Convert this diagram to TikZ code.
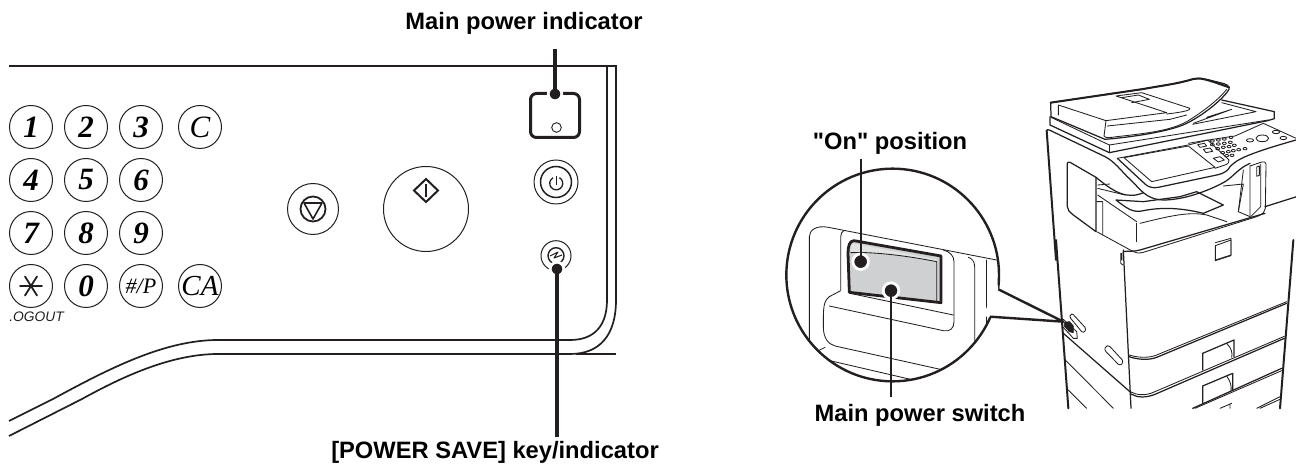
\documentclass[tikz,border=0pt]{standalone}
\usepackage{fontspec}
\setmainfont{Liberation Sans}[Ligatures=TeXOff]
\newfontfamily\keyfont{Liberation Serif}
\tikzset{
  lab/.style={font=\fontsize{11.85pt}{13pt}\selectfont\bfseries,inner sep=0pt,anchor=center},
  key/.style={circle,draw=ink,line width=0.5pt,minimum size=21.5pt,inner sep=0pt,font=\keyfont\fontsize{15.5pt}{16pt}\selectfont\bfseries\itshape},
  pan/.style={draw=ink,line width=0.85pt},
  leader/.style={draw=ink,line width=1.7pt},
  leadthin/.style={draw=ink,line width=1.05pt},
  dotk/.style={circle,fill=ink,draw=white,line width=1.4pt,minimum size=6.8pt,inner sep=0pt,outer sep=0pt},
  thin1/.style={draw=ink,line width=0.42pt,line cap=round,line join=round},
  med1/.style={draw=ink,line width=0.62pt,line cap=round,line join=round},
  thick1/.style={draw=ink,line width=1pt,line cap=round,line join=round},
  zoomA/.style={shift={(770,120)},x=0.16667pt,y=-0.16667pt},
  zoomB/.style={shift={(1030,60)},x=0.16667pt,y=-0.16667pt},
  zoomC/.style={shift={(1030,240)},x=0.16667pt,y=-0.16667pt},
}
\definecolor{ink}{HTML}{231F20}
\definecolor{rocker}{HTML}{CFD0D1}
\definecolor{rockhi}{HTML}{E2E3E3}
\begin{document}
\begin{tikzpicture}[x=0.5pt,y=-0.5pt]
\useasboundingbox (0,0) rectangle (1296,464);
% ---------- left panel outline
\draw[pan] (9,66) -- (616,66) -- (616,300) .. controls (616,335) and (600,354) .. (570,354) -- (218,354)
   .. controls (170,354) and (120,378) .. (82,399) -- (9,436);
\draw[pan] (607,66) -- (607,300) .. controls (607,325) and (595,340) .. (570,340) -- (218,340)
   .. controls (165,340) and (110,368) .. (53,399) -- (9,421);
\draw[draw=ink,line width=1.1pt] (576,354) -- (616,354);
% ---------- keypad
\foreach \n/\t/\cx/\cy in {k1/1/31/127,k2/2/86/127,k3/3/141/127,
  k4/4/31/180,k5/5/86/180,k6/6/141/180,
  k7/7/31/233,k8/8/86/233,k9/9/141/233,
  k0/0/86/286}
  \node[key] (\n) at (\cx,\cy) {\t};
\node[key,font=\keyfont\fontsize{15.5pt}{16pt}\selectfont\itshape] (kc) at (200,127) {C};
\node[key] (kstar) at (31,286) {};
\draw[thin1,line width=0.9pt] (20,286) -- (42,286) (25,276.5) -- (37,295.5) (37,276.5) -- (25,295.5);
\node[key,font=\keyfont\fontsize{11pt}{12pt}\selectfont\itshape] (khash) at (141,286) {\#/P};
\node[key,font=\keyfont\fontsize{14.5pt}{15pt}\selectfont\itshape] (kca) at (200,286) {CA};
\node[inner sep=0pt,anchor=west,font=\fontsize{6.9pt}{7pt}\selectfont\itshape,text=ink] (logout) at (9,317) {.OGOUT};
% ---------- stop
\node[circle,draw=ink,line width=0.5pt,minimum size=25.5pt,inner sep=0pt] (stop) at (313,209) {};
\node[circle,draw=ink,line width=0.9pt,minimum size=12.5pt,inner sep=0pt] (stopin) at (313,209) {};
\draw[draw=ink,line width=0.8pt,line join=round] (304,203) -- (322,203) -- (313,219) -- cycle;
% ---------- start
\node[circle,draw=ink,line width=0.5pt,minimum size=42.5pt,inner sep=0pt] (start) at (426,209) {};
\draw[draw=ink,line width=1pt,line join=miter] (426,179) -- (438,190.5) -- (426,202) -- (414,190.5) -- cycle;
\draw[draw=ink,line width=1.4pt] (426,184) -- (426,197);
% ---------- main power indicator
\node[draw=ink,line width=1.5pt,rounded corners=3pt,minimum width=24.5pt,minimum height=22pt,inner sep=0pt] (indic) at (555,115.5) {};
\node[circle,draw=ink,line width=0.45pt,minimum size=4.8pt,inner sep=0pt] (indled) at (556.5,127.5) {};
\coordinate (mpitop) at (555,49);
\node[dotk] (mpidot) at (555,94) {};
\draw[leader] (mpitop) -- (mpidot.center);
\node[lab] (mpilab) at (524,23) {Main power indicator};
% ---------- power key
\node[circle,draw=ink,line width=0.5pt,minimum size=22pt,inner sep=0pt] (pw) at (556,182) {};
\node[circle,draw=ink,line width=0.75pt,minimum size=15.5pt,inner sep=0pt] (pwin) at (556,182) {};
\draw[draw=ink,line width=0.65pt] (559.5,177.7) arc[start angle=-60,end angle=240,radius=6.5];
\draw[draw=ink,line width=0.75pt] (556.3,176.5) -- (556.3,185);
% ---------- power save
\node[circle,draw=ink,line width=0.5pt,minimum size=15pt,inner sep=0pt] (ps) at (556,255.7) {};
\node[circle,draw=ink,line width=0.7pt,minimum size=8pt,inner sep=0pt] (psin) at (556,255.7) {};
\draw[draw=ink,line width=0.55pt,line join=round] (550,256) -- (558,252) -- (554,258) -- (562,255);
\node[dotk] (psdot) at (557,269) {};
\coordinate (psbot) at (557,437);
\draw[leader] (psdot.center) -- (psbot);
\node[lab] (pslab) at (495,452) {[POWER SAVE] key/indicator};
% ---------- copier (first part)
\begin{scope}[zoomB]
\draw[thick1] (50,212) -- (78,600);
\draw[med1] (50,212) .. controls (50,208) and (55,208) .. (60,211) -- (225,290) .. controls (255,305) and (275,335) .. (300,358)
  .. controls (330,385) and (345,418) .. (400,420) .. controls (470,420) and (550,385) .. (585,365)
  .. controls (610,350) and (625,325) .. (660,310);
\draw[med1] (112,310) .. controls (112,306) and (116,305) .. (122,308) -- (198,352) -- (198,515) -- (130,465) .. controls (118,455) and (112,450) .. (112,440) -- cycle;
\draw[med1] (198,352) .. controls (250,395) and (290,420) .. (340,398);
\draw[thin1] (203,375) -- (240,372) (203,385) -- (285,405) (203,405) -- (320,485) (200,425) -- (218,425) (218,425) -- (218,525);
\draw[thin1] (200,515) -- (310,575) .. controls (320,580) and (325,580) .. (340,577) -- (680,470) .. controls (700,462) and (705,455) .. (706,445) -- (708,312) .. controls (708,306) and (702,304) .. (695,306) -- (660,318) ;
\draw[med1] (705,440) -- (800,410);
\draw[thin1] (320,490) -- (320,545);
\draw[med1] (258,420) .. controls (290,445) and (310,460) .. (340,452) .. controls (400,440) and (460,445) .. (520,460) -- (580,435) -- (500,395) -- (450,410) -- (340,425) -- (258,420);
\draw[thin1] (330,490) .. controls (430,465) and (480,455) .. (530,465) -- (590,485);
\draw[thin1] (580,378) -- (640,372) -- (625,455) -- (660,470) -- (660,318);
\draw[thin1] (640,330) -- (625,455);
\draw[thin1] (692,312) -- (692,440) -- (662,470);
\draw[thin1,draw=ink] (680,321) -- (688,318) -- (688,346) -- (680,349) -- cycle;
\draw[thin1] (556,548) -- (603,535) -- (603,585) -- (556,600);
% front door top
\draw[med1] (280,600) -- (280,575) .. controls (290,572) and (310,576) .. (330,570) -- (705,460);
\draw[thin1] (273,580) -- (273,600);
% ADF
\draw[med1] (62,128) -- (63,170) -- (225,238) .. controls (300,232) and (420,215) .. (470,190)
  .. controls (530,160) and (585,110) .. (597,88) .. controls (600,78) and (590,72) .. (570,68)
  .. controls (530,58) and (510,52) .. (490,57) .. controls (440,72) and (400,76) .. (340,87) -- (62,128) -- cycle;
\draw[thick1] (62,128) -- (340,87) .. controls (400,76) and (440,72) .. (490,57) .. controls (510,52) and (530,58) .. (597,82);
\draw[thin1] (85,138) -- (85,165) (85,135) -- (228,182) -- (222,228) .. controls (225,235) and (240,233) .. (260,230) .. controls (350,220) and (420,212) .. (470,185) .. controls (520,155) and (570,115) .. (590,88);
\draw[thin1] (228,182) -- (410,158) -- (258,108) -- (335,98) -- (480,145) .. controls (480,150) and (470,155) .. (410,162);
\draw[thin1] (275,113) -- (325,105) -- (358,118) -- (305,128);
\draw[thin1] (232,198) -- (420,178) -- (470,165);
\draw[med1] (60,170) -- (60,195) -- (238,278) -- (713,182) -- (733,176) -- (733,155) -- (575,120);
\draw[thin1] (63,172) -- (238,255) -- (715,180);
\draw[thin1] (238,255) -- (238,278);
\draw[thin1] (575,128) -- (678,155) -- (488,193) ;
\draw[thin1] (490,190) -- (605,148) -- (530,172);
% control panel
\draw[thin1] (262,295) -- (475,255) -- (535,240) -- (615,228) -- (700,190) -- (798,235);
\draw[med1] (262,295) -- (345,372) .. controls (355,382) and (370,385) .. (385,382) -- (560,345) .. controls (585,340) and (595,330) .. (600,320) .. controls (620,300) and (640,285) .. (798,240);
\draw[thin1] (282,293) -- (475,258) -- (555,322) -- (365,365) -- cycle;
\draw[thin1] (475,250) -- (533,240) -- (597,300) .. controls (598,305) and (595,312) .. (585,315) -- (555,325);
\draw[thin1] (503,254) -- (523,250) -- (530,258) -- (510,262) -- cycle (520,268) -- (540,264) -- (548,274) -- (528,278) -- cycle (550,295) -- (570,290) -- (583,300) -- (565,306) -- cycle;
\foreach \bx/\by in {547/243,565/240,583/237,603/232,
  547/254,565/252,583/250,601/247,
  563/266,580/262,597/260,613/256,
  578/278,595/275,610/272,626/269,645/266,
  590/287,606/286}
  \draw[thin1] (\bx,\by) ellipse[x radius=6,y radius=3.6];
\draw[thin1] (660,241) ellipse[x radius=11,y radius=5];
\draw[thin1] (697,235) ellipse[x radius=19,y radius=10];
\draw[thin1] (738,216) ellipse[x radius=11,y radius=5];
\draw[thin1] (760,234) ellipse[x radius=10,y radius=5];
\end{scope}
% ---------- copier (lower part)
\begin{scope}[zoomC]
\draw[thick1] (78,0) -- (115,505);
\draw[thick1] (790,0) -- (750,505);
\draw[med1] (280,30) -- (303,505);
\draw[thin1] (272,40) -- (272,70) -- (279,75);
\draw[thin1] (556,17) -- (603,0) -- (603,47) -- (556,62) -- cycle;
\draw[med1] (297,350) .. controls (320,358) and (355,362) .. (380,352) -- (770,190);
\draw[thin1] (297,345) .. controls (320,352) and (350,355) .. (375,347) -- (770,185);
\draw[med1] (303,462) .. controls (320,472) and (345,475) .. (375,463) -- (763,295);
\draw[thin1] (303,456) .. controls (320,465) and (345,468) .. (370,457) -- (763,289);
\draw[med1] (518,390) -- (518,340) -- (612,300) -- (612,350);
\draw[thin1] (590,310) .. controls (605,325) and (608,340) .. (605,352);
\draw[med1] (518,490) -- (518,438) -- (608,400) -- (608,450);
\draw[thin1] (590,408) .. controls (602,425) and (605,440) .. (603,452);
\draw[med1] (488,505) -- (755,385);
\draw[thin1] (495,505) -- (755,392);
\draw[thin1] (680,505) -- (750,470) (690,505) -- (750,478);
\draw[thin1] (600,495) -- (600,505) (570,505) -- (605,490);
\draw[med1] (100,280) -- (303,458);
\draw[thin1] (108,362) -- (250,505) (115,450) -- (170,505);
\draw[thin1] (125,222) .. controls (120,225) and (117,230) .. (122,235) -- (155,275) .. controls (162,280) and (170,272) .. (165,262) -- (130,224) -- cycle;
\draw[thin1] (232,317) .. controls (224,320) and (222,328) .. (228,335) -- (265,373) .. controls (272,378) and (282,370) .. (277,360) -- (240,320) -- cycle;
\draw[thin1] (100,238) -- (140,275) -- (142,295) -- (130,295) -- (100,262);
\draw[draw=ink,fill=ink,line width=0.4pt] (103,248) -- (118,245) -- (130,258) -- (130,278) -- (118,275) -- (103,258) -- cycle;
\end{scope}
% ---------- magnifier
\begin{scope}[zoomA]
\coordinate (tip) at (880,605);
\coordinate (mcentre) at (368,465);
\draw[draw=ink,line width=1.2pt,fill=white] (mcentre) circle[radius=319];
\begin{scope}
\clip (mcentre) circle[radius=319];
\draw[thin1] (118,700) -- (118,350) .. controls (118,330) and (140,315) .. (175,322) -- (690,422);
\draw[thin1] (212,510) -- (212,350) .. controls (212,340) and (216,335) .. (222,332);
\draw[thin1] (520,390) .. controls (540,395) and (552,408) .. (552,425) -- (552,605) .. controls (552,625) and (540,636) .. (520,632) -- (178,558);
\draw[thin1] (240,520) -- (550,585);
\draw[thin1] (212,512) -- (178,530) .. controls (160,545) and (160,560) .. (160,620) .. controls (160,655) and (175,672) .. (195,678) -- (520,750);
\draw[thin1] (595,412) .. controls (606,415) and (614,425) .. (614,440) -- (614,680);
\draw[thin1] (648,420) -- (648,650);
\draw[thin1] (120,705) -- (165,682);
\draw[thin1] (180,722) -- (430,780);
\end{scope}
\path[fill=white] (680,480) -- (685,508) -- (tip) -- (660,590) -- (640,590) -- cycle;
\draw[draw=ink,line width=1.2pt,line join=round] (685,508) -- (tip) -- (660,590);
\draw[draw=ink,fill=rocker,line width=1.4pt,line join=round] (252,362) -- (513,408) -- (513,548) -- (238,517) -- (234,400) .. controls (234,380) and (238,362) .. (252,362) -- cycle;
\path[fill=rockhi] (248,370) -- (500,418) -- (500,425) .. controls (400,405) and (300,395) .. (242,398) .. controls (242,385) and (243,375) .. (248,370) -- cycle;
\draw[thin1] (242,398) .. controls (300,395) and (400,405) .. (500,425) -- (500,542);
\node[dotk,minimum size=7.8pt,line width=1.4pt] (ondot) at (272,425) {};
\node[dotk,minimum size=7.8pt,line width=1.4pt] (swdot) at (363,512) {};
\coordinate (ontop) at (272,118);
\coordinate (swbot) at (363,830);
\draw[leadthin] (ontop) -- (ondot.center);
\draw[leadthin] (swdot.center) -- (swbot);
\end{scope}
\node[lab] (onlab) at (890,143) {"On" position};
\node[lab] (swlab) at (920,415) {Main power switch};
\end{tikzpicture}
\end{document}
